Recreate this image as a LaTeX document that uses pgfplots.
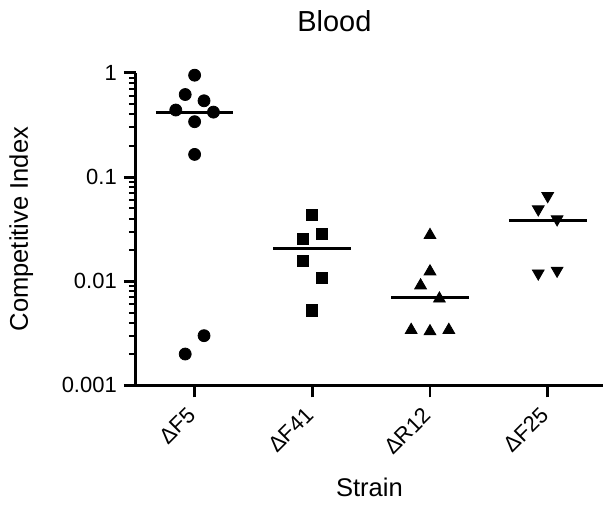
\documentclass[border=0pt]{standalone}
\usepackage{fontspec}
\setmainfont{Liberation Sans}
\usepackage{pgfplots}
\pgfplotsset{compat=1.18}
\usetikzlibrary{calc}
\begin{document}
\begin{tikzpicture}
\begin{axis}[
  scale only axis, width=234pt, height=156.5pt,
  ymode=log, ymin=0.001, ymax=1, xmin=-0.5, xmax=3.47,
  axis lines=left, axis line style={-, line width=1.5pt},
  clip=false,
  xtick={0,1,2,3}, xticklabels={ΔF5,ΔF41,ΔR12,ΔF25},
  ytick={0.001,0.01,0.1,1}, yticklabels={0.001,0.01,0.1,1},
  minor ytick={0.002,0.003,0.004,0.005,0.006,0.007,0.008,0.009,0.02,0.03,0.04,0.05,0.06,0.07,0.08,0.09,0.2,0.3,0.4,0.5,0.6,0.7,0.8,0.9},
  tick align=outside,
  major tick length=6pt, minor tick length=3.5pt,
  every major tick/.append style={line width=1.5pt, black},
  every minor tick/.append style={line width=1pt, black},
  tick label style={font=\fontsize{11}{13}\selectfont},
  xticklabel style={yshift=-4.5pt, xshift=1pt, rotate=45, anchor=east},
  /pgf/number format/assume math mode=true,
  xlabel={Strain},
  xlabel style={font=\fontsize{12.8}{15}\selectfont, at={(rel axis cs:0.5,-0.3546)}, anchor=base},
  ylabel={Competitive Index},
  ylabel style={font=\fontsize{12.8}{15}\selectfont, at={(rel axis cs:-0.2308,0.5)}, anchor=base},
]
\coordinate (bl) at (rel axis cs:0,0);
\coordinate (tr) at (rel axis cs:1,1);
\node[anchor=base, font=\fontsize{14.5}{17}\selectfont, inner sep=0pt] at (rel axis cs:0.425,1.131) {Blood};
% Delta F5
\addplot[only marks, mark=*, mark size=3pt, black] coordinates {
(0,0.95) (-0.08,0.62) (0.08,0.54) (-0.16,0.44) (0.16,0.42) (0,0.34) (0,0.165) (0.08,0.003) (-0.08,0.002)};
\addplot[black, line width=1.5pt] coordinates {(-0.33,0.42) (0.33,0.42)};
% Delta F41
\addplot[only marks, mark=square*, mark size=2.8pt, black] coordinates {
(1,0.0434) (1.08,0.0284) (0.92,0.0254) (0.92,0.0156) (1.08,0.0108) (1,0.00525)};
\addplot[black, line width=1.5pt] coordinates {(0.67,0.0207) (1.33,0.0207)};
% Delta R12
\addplot[only marks, mark=triangle*, mark size=3.4pt, black] coordinates {
(2,0.0277) (2,0.0124) (1.92,0.0091) (2.08,0.0068) (1.84,0.0034) (2,0.0033) (2.16,0.0034)};
\addplot[black, line width=1.5pt] coordinates {(1.67,0.0070) (2.33,0.0070)};
% Delta F25
\addplot[only marks, mark=triangle*, mark options={rotate=180}, mark size=3.4pt, black] coordinates {
(3,0.0659) (2.92,0.0491) (3.08,0.0394) (2.92,0.0119) (3.08,0.01265)};
\addplot[black, line width=1.5pt] coordinates {(2.67,0.0383) (3.33,0.0383)};
\end{axis}
\pgfresetboundingbox
\path[use as bounding box] ($(bl)+(-68pt,-60pt)$) rectangle ($(tr)+(0.5pt,36.5pt)$);
\end{tikzpicture}
\end{document}
